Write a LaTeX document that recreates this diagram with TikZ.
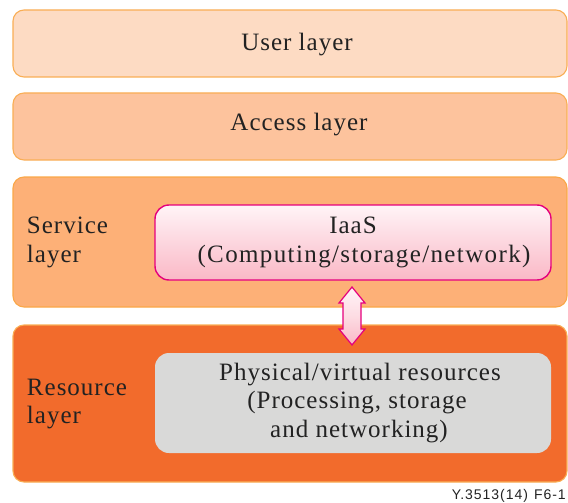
\documentclass[tikz,border=0pt]{standalone}
\usepackage{fontspec}
\usetikzlibrary{calc}
\setmainfont{Liberation Serif}[LetterSpace=4.0]
\newfontfamily\figsans{Liberation Sans}[LetterSpace=7.0]
\definecolor{userfill}{HTML}{FDDBC3}
\definecolor{accessfill}{HTML}{FDC39D}
\definecolor{servicefill}{HTML}{FDB077}
\definecolor{resfill}{HTML}{F26B2C}
\definecolor{layerborder}{HTML}{F9AE55}
\definecolor{magentaline}{HTML}{E5007D}
\definecolor{pinktop}{HTML}{FFF4F7}
\definecolor{pinkbot}{HTML}{FAB8C6}
\definecolor{grayfill}{HTML}{D9D9D8}
\definecolor{txt}{HTML}{222222}
\begin{document}
\begin{tikzpicture}[x=1pt,y=-1pt,
  layerbox/.style={rectangle, rounded corners=11pt, line width=1.1pt, draw=layerborder,
    inner sep=0pt, outer sep=0pt, anchor=north west},
  innerbox/.style={rectangle, rounded corners=14pt, inner sep=0pt, outer sep=0pt, anchor=north west},
  lbl/.style={font=\fontsize{25}{29}\selectfont, text=txt, inner sep=0pt, outer sep=0pt},
  arrowshape/.style={draw=magentaline, line width=1.2pt, line join=miter, top color=pinktop, bottom color=pinkbot, middle color=pinktop!60!pinkbot}
]
\useasboundingbox (0,0) rectangle (568,503);

% layers
\node[layerbox, fill=userfill, minimum width=554pt, minimum height=67pt] (user) at (13,10) {};
\node[layerbox, fill=accessfill, minimum width=554pt, minimum height=67pt] (access) at (13,93) {};
\node[layerbox, fill=servicefill, draw=layerborder!85!orange, minimum width=554pt, minimum height=130pt] (service) at (13,177) {};
\node[layerbox, fill=resfill, minimum width=554pt, minimum height=157pt] (resource) at (13,325) {};

% inner boxes
\node[innerbox, draw=magentaline, line width=1.4pt, top color=pinktop, bottom color=pinkbot,
  minimum width=396pt, minimum height=75pt] (iaas) at (155,205) {};
\node[innerbox, fill=grayfill, minimum width=396pt, minimum height=100pt] (phys) at (155,353) {};

% texts
\node[lbl, anchor=base] (usertxt) at (297,51) {User layer};
\node[lbl, anchor=base] (accesstxt) at (299,131) {Access layer};
\node[lbl, anchor=base west] (servtxt1) at (27,233) {Service};
\node[lbl, anchor=base west] (servtxt2) at (27,262) {layer};
\node[lbl, anchor=base] (iaastxt1) at (353,233) {IaaS};
\node[lbl, anchor=base, font=\addfontfeatures{LetterSpace=5.5}\fontsize{25}{29}\selectfont] (iaastxt2) at (364,262) {(Computing/storage/network)};
\node[lbl, anchor=base west] (restxt1) at (27,395) {Resource};
\node[lbl, anchor=base west] (restxt2) at (27,423) {layer};
\node[lbl, anchor=base] (phystxt1) at (360,380) {Physical/virtual resources};
\node[lbl, anchor=base] (phystxt2) at (357,408) {(Processing, storage};
\node[lbl, anchor=base] (phystxt3) at (359,437) {and networking)};

% double arrow between IaaS and physical resources
\coordinate (arrtop) at ([yshift=-7pt]iaas.south -| 352,0);
\coordinate (arrbot) at ([yshift=8pt]phys.north -| 352,0);
\path[arrowshape] (arrtop) -- ++(13,16) -- ++(-4,0) -- ($(arrbot)+(9,-16)$) -- ++(4,0) -- (arrbot)
  -- ++(-13,-16) -- ++(4,0) -- ($(arrtop)+(-9,16)$) -- ++(-4,0) -- cycle;

% figure id
\node[font=\figsans\fontsize{14}{16}\selectfont, text=txt, anchor=base east, inner sep=0pt] (figid) at (566,499) {Y.3513(14)\hspace{6pt}F6-1};
\end{tikzpicture}
\end{document}
